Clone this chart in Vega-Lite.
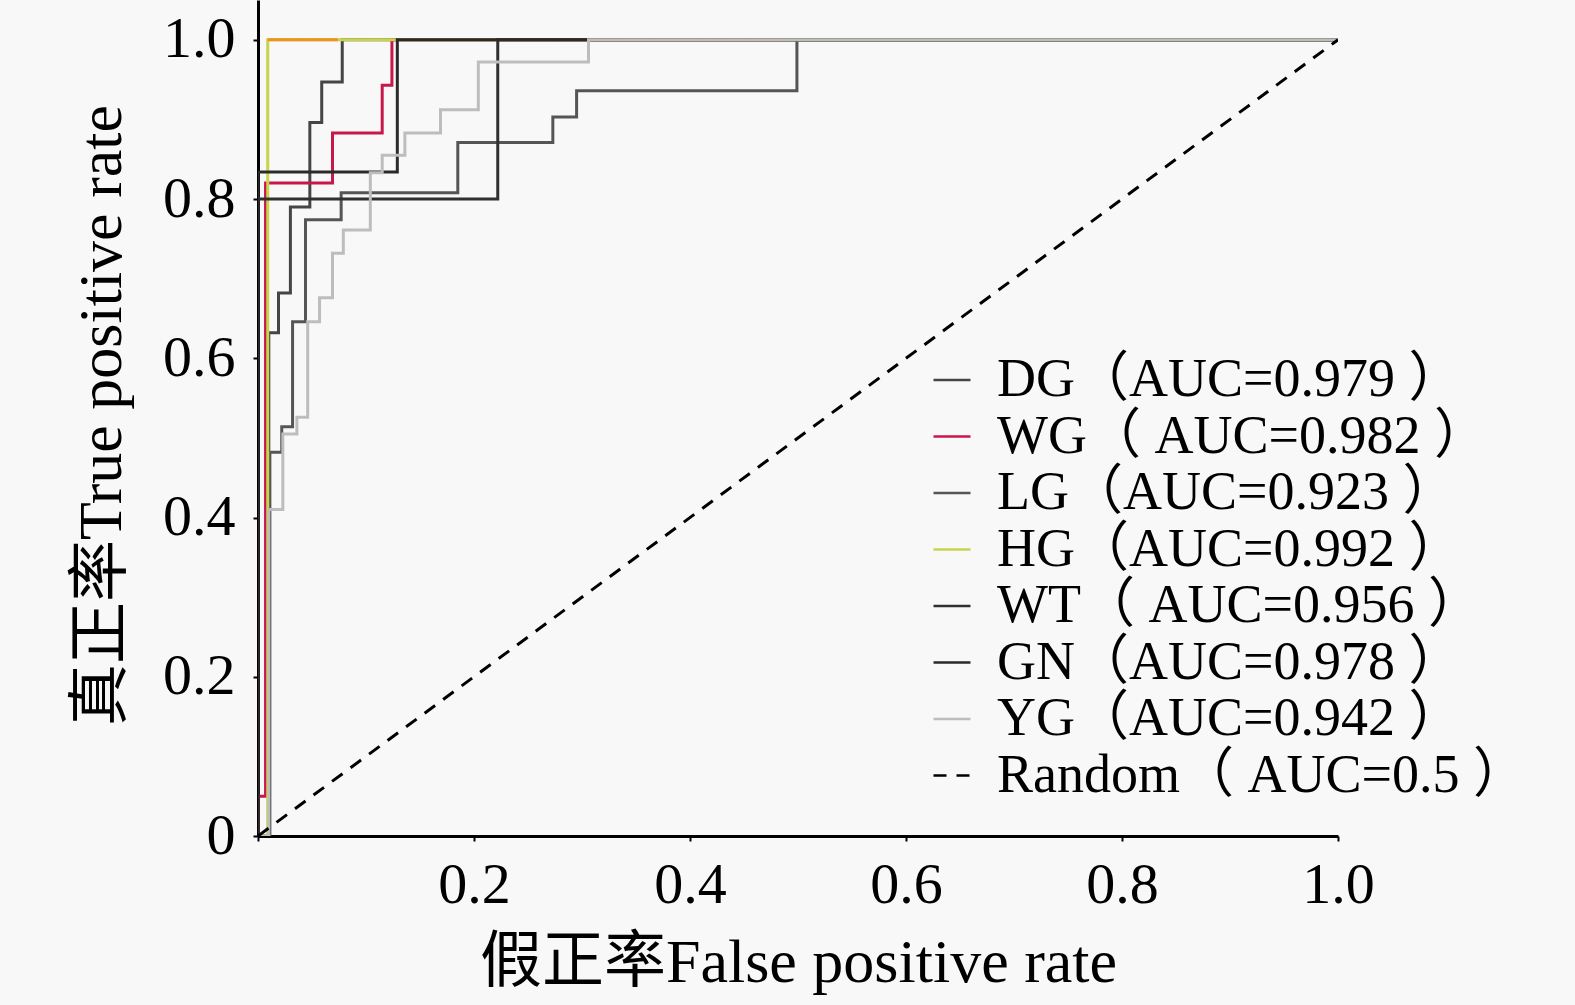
{
  "$schema": "https://vega.github.io/schema/vega-lite/v6.json",
  "width": 1080,
  "height": 836,
  "autosize": "none",
  "padding": {"left": 258, "top": 0, "right": 237, "bottom": 169},
  "background": "#f8f8f8",
  "datasets": {
    "roc": [
      {"s": "DG（AUC=0.979 ）", "o": 0, "x": 0, "y": 0},
      {"s": "DG（AUC=0.979 ）", "o": 1, "x": 0.01, "y": 0},
      {"s": "DG（AUC=0.979 ）", "o": 2, "x": 0.01, "y": 0.632},
      {"s": "DG（AUC=0.979 ）", "o": 3, "x": 0.019, "y": 0.632},
      {"s": "DG（AUC=0.979 ）", "o": 4, "x": 0.019, "y": 0.682},
      {"s": "DG（AUC=0.979 ）", "o": 5, "x": 0.03, "y": 0.682},
      {"s": "DG（AUC=0.979 ）", "o": 6, "x": 0.03, "y": 0.79},
      {"s": "DG（AUC=0.979 ）", "o": 7, "x": 0.048, "y": 0.79},
      {"s": "DG（AUC=0.979 ）", "o": 8, "x": 0.048, "y": 0.896},
      {"s": "DG（AUC=0.979 ）", "o": 9, "x": 0.059, "y": 0.896},
      {"s": "DG（AUC=0.979 ）", "o": 10, "x": 0.059, "y": 0.947},
      {"s": "DG（AUC=0.979 ）", "o": 11, "x": 0.078, "y": 0.947},
      {"s": "DG（AUC=0.979 ）", "o": 12, "x": 0.078, "y": 1},
      {"s": "DG（AUC=0.979 ）", "o": 13, "x": 1, "y": 1},

      {"s": "WG（ AUC=0.982 ）", "o": 0, "x": 0, "y": 0},
      {"s": "WG（ AUC=0.982 ）", "o": 1, "x": 0, "y": 0.05},
      {"s": "WG（ AUC=0.982 ）", "o": 2, "x": 0.007, "y": 0.05},
      {"s": "WG（ AUC=0.982 ）", "o": 3, "x": 0.007, "y": 0.82},
      {"s": "WG（ AUC=0.982 ）", "o": 4, "x": 0.069, "y": 0.82},
      {"s": "WG（ AUC=0.982 ）", "o": 5, "x": 0.069, "y": 0.883},
      {"s": "WG（ AUC=0.982 ）", "o": 6, "x": 0.115, "y": 0.883},
      {"s": "WG（ AUC=0.982 ）", "o": 7, "x": 0.115, "y": 0.943},
      {"s": "WG（ AUC=0.982 ）", "o": 8, "x": 0.124, "y": 0.943},
      {"s": "WG（ AUC=0.982 ）", "o": 9, "x": 0.124, "y": 1},
      {"s": "WG（ AUC=0.982 ）", "o": 10, "x": 1, "y": 1},

      {"s": "LG（AUC=0.923 ）", "o": 0, "x": 0, "y": 0},
      {"s": "LG（AUC=0.923 ）", "o": 1, "x": 0.011, "y": 0},
      {"s": "LG（AUC=0.923 ）", "o": 2, "x": 0.011, "y": 0.482},
      {"s": "LG（AUC=0.923 ）", "o": 3, "x": 0.022, "y": 0.482},
      {"s": "LG（AUC=0.923 ）", "o": 4, "x": 0.022, "y": 0.514},
      {"s": "LG（AUC=0.923 ）", "o": 5, "x": 0.032, "y": 0.514},
      {"s": "LG（AUC=0.923 ）", "o": 6, "x": 0.032, "y": 0.646},
      {"s": "LG（AUC=0.923 ）", "o": 7, "x": 0.044, "y": 0.646},
      {"s": "LG（AUC=0.923 ）", "o": 8, "x": 0.044, "y": 0.774},
      {"s": "LG（AUC=0.923 ）", "o": 9, "x": 0.077, "y": 0.774},
      {"s": "LG（AUC=0.923 ）", "o": 10, "x": 0.077, "y": 0.808},
      {"s": "LG（AUC=0.923 ）", "o": 11, "x": 0.185, "y": 0.808},
      {"s": "LG（AUC=0.923 ）", "o": 12, "x": 0.185, "y": 0.871},
      {"s": "LG（AUC=0.923 ）", "o": 13, "x": 0.273, "y": 0.871},
      {"s": "LG（AUC=0.923 ）", "o": 14, "x": 0.273, "y": 0.903},
      {"s": "LG（AUC=0.923 ）", "o": 15, "x": 0.295, "y": 0.903},
      {"s": "LG（AUC=0.923 ）", "o": 16, "x": 0.295, "y": 0.936},
      {"s": "LG（AUC=0.923 ）", "o": 17, "x": 0.499, "y": 0.936},
      {"s": "LG（AUC=0.923 ）", "o": 18, "x": 0.499, "y": 1},
      {"s": "LG（AUC=0.923 ）", "o": 19, "x": 1, "y": 1},

      {"s": "HG（AUC=0.992 ）", "o": 0, "x": 0, "y": 0},
      {"s": "HG（AUC=0.992 ）", "o": 1, "x": 0.009, "y": 0},
      {"s": "HG（AUC=0.992 ）", "o": 2, "x": 0.009, "y": 1},
      {"s": "HG（AUC=0.992 ）", "o": 3, "x": 1, "y": 1},

      {"s": "WT（ AUC=0.956 ）", "o": 0, "x": 0, "y": 0},
      {"s": "WT（ AUC=0.956 ）", "o": 1, "x": 0, "y": 0.8},
      {"s": "WT（ AUC=0.956 ）", "o": 2, "x": 0.222, "y": 0.8},
      {"s": "WT（ AUC=0.956 ）", "o": 3, "x": 0.222, "y": 1},
      {"s": "WT（ AUC=0.956 ）", "o": 4, "x": 1, "y": 1},

      {"s": "GN（AUC=0.978 ）", "o": 0, "x": 0, "y": 0},
      {"s": "GN（AUC=0.978 ）", "o": 1, "x": 0, "y": 0.834},
      {"s": "GN（AUC=0.978 ）", "o": 2, "x": 0.129, "y": 0.834},
      {"s": "GN（AUC=0.978 ）", "o": 3, "x": 0.129, "y": 1},
      {"s": "GN（AUC=0.978 ）", "o": 4, "x": 1, "y": 1},

      {"s": "YG（AUC=0.942 ）", "o": 0, "x": 0, "y": 0},
      {"s": "YG（AUC=0.942 ）", "o": 1, "x": 0.01, "y": 0},
      {"s": "YG（AUC=0.942 ）", "o": 2, "x": 0.01, "y": 0.41},
      {"s": "YG（AUC=0.942 ）", "o": 3, "x": 0.023, "y": 0.41},
      {"s": "YG（AUC=0.942 ）", "o": 4, "x": 0.023, "y": 0.505},
      {"s": "YG（AUC=0.942 ）", "o": 5, "x": 0.036, "y": 0.505},
      {"s": "YG（AUC=0.942 ）", "o": 6, "x": 0.036, "y": 0.526},
      {"s": "YG（AUC=0.942 ）", "o": 7, "x": 0.046, "y": 0.526},
      {"s": "YG（AUC=0.942 ）", "o": 8, "x": 0.046, "y": 0.646},
      {"s": "YG（AUC=0.942 ）", "o": 9, "x": 0.057, "y": 0.646},
      {"s": "YG（AUC=0.942 ）", "o": 10, "x": 0.057, "y": 0.676},
      {"s": "YG（AUC=0.942 ）", "o": 11, "x": 0.069, "y": 0.676},
      {"s": "YG（AUC=0.942 ）", "o": 12, "x": 0.069, "y": 0.732},
      {"s": "YG（AUC=0.942 ）", "o": 13, "x": 0.079, "y": 0.732},
      {"s": "YG（AUC=0.942 ）", "o": 14, "x": 0.079, "y": 0.761},
      {"s": "YG（AUC=0.942 ）", "o": 15, "x": 0.104, "y": 0.761},
      {"s": "YG（AUC=0.942 ）", "o": 16, "x": 0.104, "y": 0.833},
      {"s": "YG（AUC=0.942 ）", "o": 17, "x": 0.115, "y": 0.833},
      {"s": "YG（AUC=0.942 ）", "o": 18, "x": 0.115, "y": 0.855},
      {"s": "YG（AUC=0.942 ）", "o": 19, "x": 0.136, "y": 0.855},
      {"s": "YG（AUC=0.942 ）", "o": 20, "x": 0.136, "y": 0.883},
      {"s": "YG（AUC=0.942 ）", "o": 21, "x": 0.169, "y": 0.883},
      {"s": "YG（AUC=0.942 ）", "o": 22, "x": 0.169, "y": 0.912},
      {"s": "YG（AUC=0.942 ）", "o": 23, "x": 0.204, "y": 0.912},
      {"s": "YG（AUC=0.942 ）", "o": 24, "x": 0.204, "y": 0.972},
      {"s": "YG（AUC=0.942 ）", "o": 25, "x": 0.306, "y": 0.972},
      {"s": "YG（AUC=0.942 ）", "o": 26, "x": 0.306, "y": 1},
      {"s": "YG（AUC=0.942 ）", "o": 27, "x": 1, "y": 1},

      {"s": "Random（ AUC=0.5 ）", "o": 0, "x": 0, "y": 0},
      {"s": "Random（ AUC=0.5 ）", "o": 1, "x": 1, "y": 1}
    ],
    "hgtop": [
      {"x": 0.009, "y": 1},
      {"x": 0.074, "y": 1}
    ]
  },
  "layer": [
    {
      "data": {"name": "roc"},
      "mark": {"type": "line", "strokeWidth": 3, "clip": true},
      "encoding": {
        "x": {
          "field": "x", "type": "quantitative",
          "scale": {"domain": [0, 1], "nice": false, "zero": false},
          "axis": {
            "values": [0, 0.2, 0.4, 0.6, 0.8, 1.0],
            "labelExpr": "datum.value === 0 ? '' : format(datum.value, '.1f')",
            "labelFlush": false,
            "grid": false, "domainColor": "#000", "domainWidth": 3,
            "tickColor": "#000", "tickSize": 5, "tickWidth": 2,
            "labelFontSize": 58, "labelPadding": 15, "labelColor": "#000",
            "title": "假正率False positive rate", "titleFontSize": 62, "titleFontWeight": "normal",
            "titleColor": "#000", "titleY": 126, "titleBaseline": "middle", "titleX": 540
          }
        },
        "y": {
          "field": "y", "type": "quantitative",
          "scale": {"domain": [0, 1.05], "nice": false, "zero": false},
          "axis": {
            "values": [0, 0.2, 0.4, 0.6, 0.8, 1.0],
            "labelExpr": "datum.value === 0 ? '0' : format(datum.value, '.1f')",
            "grid": false, "domainColor": "#000", "domainWidth": 3,
            "tickColor": "#000", "tickSize": 5, "tickWidth": 2,
            "labelFontSize": 58, "labelPadding": 18, "labelColor": "#000",
            "title": "真正率True positive rate", "titleFontSize": 62, "titleFontWeight": "normal",
            "titleColor": "#000", "titleX": -157, "titleY": 415, "titleAngle": -90,
            "titleBaseline": "middle", "titleAlign": "center"
          }
        },
        "order": {"field": "o", "type": "quantitative"},
        "color": {
          "field": "s", "type": "nominal",
          "scale": {
            "domain": ["DG（AUC=0.979 ）", "WG（ AUC=0.982 ）", "LG（AUC=0.923 ）", "HG（AUC=0.992 ）", "WT（ AUC=0.956 ）", "GN（AUC=0.978 ）", "YG（AUC=0.942 ）", "Random（ AUC=0.5 ）"],
            "range": ["#454545", "#c8174a", "#555555", "#c9d34c", "#303030", "#2a2a2a", "#bdbdbd", "#000000"]
          },
          "legend": {
            "title": null, "orient": "none", "legendX": 667, "legendY": 353,
            "symbolType": "stroke", "symbolSize": 1369, "symbolStrokeWidth": 2.5,
            "labelFontSize": 54, "labelColor": "#000", "labelOffset": 18, "rowPadding": 2.5,
            "labelLimit": 700
          }
        },
        "strokeDash": {
          "field": "s", "type": "nominal",
          "scale": {
            "domain": ["DG（AUC=0.979 ）", "WG（ AUC=0.982 ）", "LG（AUC=0.923 ）", "HG（AUC=0.992 ）", "WT（ AUC=0.956 ）", "GN（AUC=0.978 ）", "YG（AUC=0.942 ）", "Random（ AUC=0.5 ）"],
            "range": [[1, 0], [1, 0], [1, 0], [1, 0], [1, 0], [1, 0], [1, 0], [13, 10]]
          },
          "legend": {
            "title": null, "orient": "none", "legendX": 667, "legendY": 353,
            "symbolType": "stroke", "symbolSize": 1369, "symbolStrokeWidth": 2.5,
            "labelFontSize": 54, "labelColor": "#000", "labelOffset": 18, "rowPadding": 2.5,
            "labelLimit": 700
          }
        }
      }
    },
    {
      "data": {"name": "hgtop"},
      "mark": {"type": "line", "strokeWidth": 3, "color": "#f0901e"},
      "encoding": {
        "x": {"field": "x", "type": "quantitative"},
        "y": {"field": "y", "type": "quantitative"}
      }
    }
  ],
  "config": {
    "font": "Liberation Serif, Noto Sans CJK SC",
    "view": {"stroke": null}
  }
}
